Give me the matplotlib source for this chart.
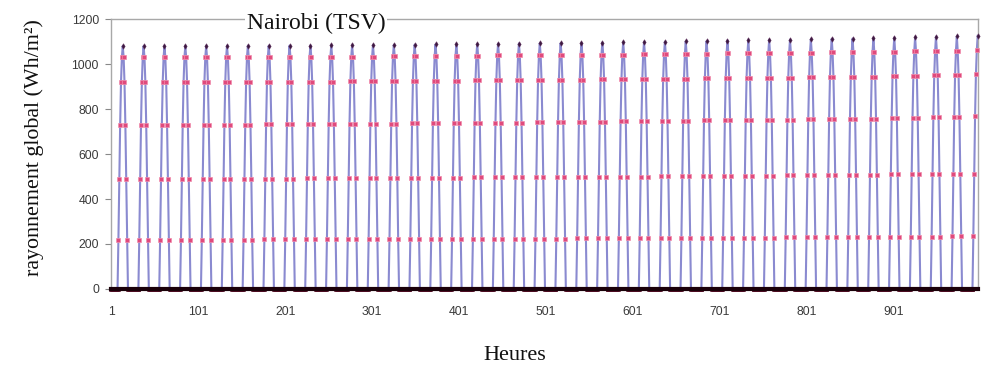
import numpy as np
import matplotlib
matplotlib.use("Agg")
import matplotlib.pyplot as plt
from matplotlib.transforms import offset_copy

# Hourly global radiation, Nairobi (true solar time), 42 days
n_hours = 998
peak_hour_first = 14  # solar noon of day 1 (hour index, 1-based)

# Daily profile levels (morning side, mirrored in the afternoon) per day
lvl_1 = [220, 220, 220, 220, 220, 220, 220, 221, 221, 221, 221, 222, 222, 222,
         222, 223, 223, 223, 223, 224, 224, 224, 225, 225, 225, 226, 226, 226,
         227, 227, 228, 228, 229, 229, 230, 230, 231, 232, 232, 233, 234, 235]
lvl_2 = [490, 490, 490, 490, 490, 490, 491, 491, 491, 492, 492, 493, 493, 494,
         494, 495, 495, 496, 496, 497, 497, 498, 498, 499, 499, 500, 501, 501,
         502, 503, 503, 504, 505, 505, 506, 507, 508, 509, 510, 511, 512, 513]
lvl_3 = [730, 730, 730, 730, 730, 731, 731, 732, 732, 733, 733, 734, 735, 735,
         736, 737, 738, 739, 740, 740, 741, 742, 743, 744, 745, 746, 747, 748,
         749, 750, 751, 752, 753, 754, 755, 756, 757, 759, 761, 763, 765, 768]
lvl_4 = [920, 920, 920, 920, 920, 920, 921, 921, 921, 922, 922, 923, 923, 924,
         925, 925, 926, 927, 928, 928, 929, 930, 931, 932, 932, 933, 934, 935,
         936, 937, 938, 939, 940, 941, 942, 943, 944, 946, 948, 950, 952, 955]
lvl_5 = [1030, 1030, 1030, 1030, 1030, 1031, 1031, 1031, 1031, 1032, 1032, 1033,
         1033, 1034, 1035, 1035, 1036, 1037, 1038, 1038, 1039, 1040, 1041, 1042,
         1042, 1043, 1044, 1045, 1046, 1047, 1048, 1049, 1050, 1051, 1052, 1053,
         1054, 1055, 1057, 1058, 1060, 1062]
lvl_peak = [1080, 1080, 1080, 1080, 1080, 1081, 1081, 1081, 1082, 1082, 1083,
            1083, 1084, 1085, 1086, 1087, 1088, 1089, 1090, 1091, 1092, 1093,
            1094, 1095, 1097, 1098, 1099, 1101, 1102, 1104, 1105, 1107, 1108,
            1110, 1112, 1113, 1115, 1117, 1119, 1121, 1123, 1125]

x_tick_labels = ["1", "101", "201", "301", "401", "501", "601", "701", "801", "901"]
y_ticks = [0, 200, 400, 600, 800, 1000, 1200]

hours = np.arange(1, n_hours + 1)
radiation = np.zeros(n_hours)
noon = np.zeros(n_hours, dtype=bool)
for d in range(len(lvl_peak)):
    morning = [0, lvl_1[d], lvl_2[d], lvl_3[d], lvl_4[d], lvl_5[d]]
    day = morning + [lvl_peak[d]] + morning[::-1]
    start = peak_hour_first - 1 + 24 * d - 6  # 0-based index of sunrise
    for k, v in enumerate(day):
        if 0 <= start + k < n_hours:
            radiation[start + k] = v
    if start + 6 < n_hours:
        noon[start + 6] = True

fig = plt.figure(figsize=(9.89, 3.66), dpi=100)
ax = fig.add_axes([0.1127, 0.2104, 0.8762, 0.7376])

ax.plot(hours, radiation, color="#8a8ad0", lw=1.5, zorder=2, clip_on=False)
mid = (radiation > 0) & ~noon
ax.plot(hours[mid], radiation[mid], ls="none", marker="s", ms=2.6,
        mfc="#e04a7c", mec="#f08cac", mew=0.5, zorder=3, clip_on=False)
ax.plot(hours[noon], radiation[noon], ls="none", marker="d", ms=2.8,
        mfc="#3c1a40", mec="#5a2a58", mew=0.4, zorder=3, clip_on=False)
zero = radiation == 0
ax.plot(hours[zero], radiation[zero], ls="none", marker="s", ms=3.2,
        mfc="#3a0a1c", mec="#5a1028", mew=0.4, zorder=4, clip_on=False)

ax.set_xlim(1, n_hours + 0.4)
ax.set_ylim(0, 1200)
ax.set_yticks(y_ticks)
ax.set_yticklabels([str(v) for v in y_ticks])
ax.set_xticks([int(s) for s in x_tick_labels])
ax.set_xticklabels(x_tick_labels)

for lab in ax.get_xticklabels() + ax.get_yticklabels():
    lab.set_fontfamily("Liberation Sans")
    lab.set_fontsize(8.8)
    lab.set_color("#3a3a3a")
ax.tick_params(axis="x", length=0, pad=12)
ax.tick_params(axis="y", length=4, width=0.8, color="#888888", pad=5)

for side in ["top", "right", "left"]:
    ax.spines[side].set_color("#a8a8a8")
    ax.spines[side].set_linewidth(1.0)
ax.spines["bottom"].set_color("#1a0008")
ax.spines["bottom"].set_linewidth(3.0)
ax.spines["bottom"].set_zorder(4)

serif = "Liberation Serif"
title_tr = offset_copy(ax.transAxes, fig=fig, x=0, y=-3, units="points")
ax.text(0.236, 1.0, "Nairobi (TSV)", transform=title_tr, ha="center",
        va="center", fontsize=17, family=serif, color="#111111",
        bbox=dict(facecolor="white", edgecolor="none", pad=1), zorder=5)
fig.text(0.035, 0.596, "rayonnement global (Wh/m²)", rotation=90, ha="center",
         va="center", fontsize=15.8, family=serif, color="#111111")
fig.text(0.52, 0.030, "Heures", ha="center", va="center", fontsize=16,
         family=serif, color="#111111")

fig.savefig("out.png", dpi=100)
